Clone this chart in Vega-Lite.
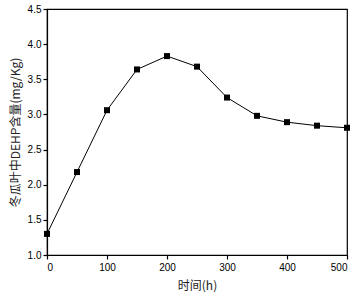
{
  "$schema": "https://vega.github.io/schema/vega-lite/v6.json",
  "width": 300,
  "height": 246,
  "autosize": {"type": "none"},
  "padding": {"left": 47, "top": 9, "right": 11, "bottom": 43},
  "background": "white",
  "config": {
    "view": {"stroke": "black", "strokeWidth": 1.2},
    "font": "Liberation Sans",
    "axis": {
      "grid": false,
      "domainColor": "black",
      "domainWidth": 1.2,
      "tickColor": "black",
      "tickSize": 4,
      "tickWidth": 1.2,
      "labelColor": "black",
      "labelFontSize": 10,
      "labelFont": "Liberation Sans",
      "titleColor": "#222",
      "titleFontSize": 12,
      "titleFontWeight": "normal",
      "titleFont": "Noto Sans CJK SC"
    }
  },
  "data": {
    "values": [
      {"t": 0, "v": 1.30},
      {"t": 50, "v": 2.18},
      {"t": 100, "v": 3.06},
      {"t": 150, "v": 3.64},
      {"t": 200, "v": 3.83},
      {"t": 250, "v": 3.68},
      {"t": 300, "v": 3.24},
      {"t": 350, "v": 2.98},
      {"t": 400, "v": 2.89},
      {"t": 450, "v": 2.84},
      {"t": 500, "v": 2.81}
    ]
  },
  "encoding": {
    "x": {
      "field": "t", "type": "quantitative",
      "scale": {"domain": [0, 500], "nice": false},
      "axis": {"values": [0, 100, 200, 300, 400, 500], "title": "时间(h)", "titlePadding": 8, "labelPadding": 3}
    },
    "y": {
      "field": "v", "type": "quantitative",
      "scale": {"domain": [1.0, 4.5], "nice": false, "zero": false},
      "axis": {"values": [1.0, 1.5, 2.0, 2.5, 3.0, 3.5, 4.0, 4.5], "format": ".1f", "title": "冬瓜叶中DEHP含量(mg/Kg)", "titlePadding": 5, "labelPadding": 2}
    }
  },
  "layer": [
    {"mark": {"type": "line", "color": "black", "strokeWidth": 1}},
    {"mark": {"type": "square", "color": "black", "opacity": 1, "filled": true, "size": 36}}
  ]
}
